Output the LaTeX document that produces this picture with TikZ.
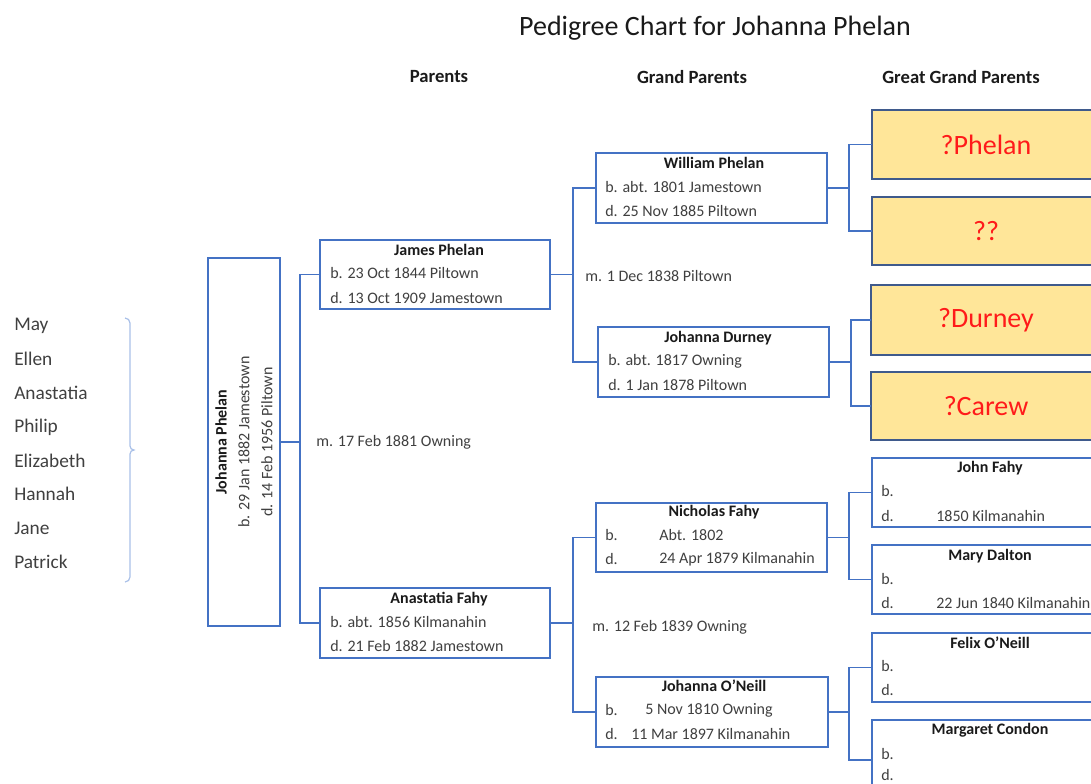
\documentclass[tikz,border=0pt]{standalone}
\usepackage{fontspec}
\setmainfont{Carlito}
\definecolor{boxblue}{HTML}{4472C4}
\definecolor{ggpborder}{HTML}{3F5A8C}
\definecolor{ggpfill}{HTML}{FFE699}
\definecolor{txtgrey}{HTML}{404040}
\definecolor{namecol}{HTML}{1A1A1A}
\definecolor{bracecol}{HTML}{A9C0E8}
\definecolor{redtxt}{HTML}{FF1A1A}
\tikzset{
  x=0.75pt, y=-0.75pt,
  pbox/.style={draw=boxblue, line width=1.2pt, fill=white, inner sep=0pt, outer sep=0pt},
  gbox/.style={draw=ggpborder, line width=1.2pt, fill=ggpfill, inner sep=0pt, outer sep=0pt},
  conn/.style={draw=boxblue, line width=1.2pt},
  lbl/.style={inner sep=0pt, anchor=west, font=\fontsize{12}{14}\selectfont, text=txtgrey},
  nm/.style={inner sep=0pt, font=\fontsize{12}{14}\selectfont\bfseries, text=namecol},
  hdr/.style={inner sep=0pt, font=\fontsize{14}{16}\selectfont\bfseries, text=namecol},
  kid/.style={inner sep=0pt, anchor=west, font=\fontsize{14.5}{16}\selectfont, text=txtgrey},
  red/.style={inner sep=0pt, font=\fontsize{21}{24}\selectfont, text=redtxt},
}
\newcommand\mkbox[6]{\node[#2, minimum width={(#5-#3)*0.75pt}, minimum height={(#6-#4)*0.75pt}] (#1) at ({(#3+#5)/2},{(#4+#6)/2}) {};}
\begin{document}
\begin{tikzpicture}
\useasboundingbox (0,0) rectangle (1091,784);
\clip (0,0) rectangle (1091,784);
% title and headers
\node[inner sep=0pt, font=\fontsize{21}{24}\selectfont, text=namecol] (title) at (715,28) {Pedigree Chart for Johanna Phelan};
\node[hdr] (h1) at (439,77) {Parents};
\node[hdr] (h2) at (692,77) {Grand Parents};
\node[hdr] (h3) at (961,77) {Great Grand Parents};
% children list
\node[kid] (k1) at (14,326) {May};
\node[kid] (k2) at (14,359) {Ellen};
\node[kid] (k3) at (14,393) {Anastatia};
\node[kid] (k4) at (14,427) {Philip};
\node[kid] (k5) at (14,461) {Elizabeth};
\node[kid] (k6) at (14,494) {Hannah};
\node[kid] (k7) at (14,528) {Jane};
\node[kid] (k8) at (14,562) {Patrick};
\draw[bracecol, line width=0.9pt] (125,318) to[out=0,in=90] (130,323) -- (130,446) to[out=-90,in=180] (134,450) to[out=180,in=90] (130,454) -- (130,577) to[out=-90,in=0] (125,582);
% boxes
\mkbox{main}{pbox}{208}{258}{280}{626}
\mkbox{jp}{pbox}{320}{240}{550}{309}
\mkbox{af}{pbox}{320}{588}{550}{658}
\mkbox{wp}{pbox}{596}{153}{827}{223}
\mkbox{jd}{pbox}{598}{327}{829}{397}
\mkbox{nf}{pbox}{596}{503}{827}{572}
\mkbox{jo}{pbox}{596}{677}{828}{747}
\mkbox{g1}{gbox}{872}{110}{1101}{179}
\mkbox{g2}{gbox}{872}{197}{1101}{265}
\mkbox{g3}{gbox}{871}{285}{1101}{355}
\mkbox{g4}{gbox}{871}{372}{1101}{440}
\mkbox{jf}{pbox}{872}{458}{1101}{527}
\mkbox{md}{pbox}{872}{545}{1101}{614}
\mkbox{fo}{pbox}{872}{633}{1101}{702}
\mkbox{mc}{pbox}{872}{720}{1101}{800}
% junction coordinates
\coordinate (j0) at (300,442);
\coordinate (j1) at (573,274.5);
\coordinate (j2) at (573,623);
\coordinate (j3) at (849,188);
\coordinate (j4) at (851,362);
\coordinate (j5) at (849,537.5);
\coordinate (j6) at (849,712);
% connectors
\draw[conn] (main.east) -- (j0);
\draw[conn] (jp.west) -| (j0) |- (af.west);
\draw[conn] (jp.east) -- (j1);
\draw[conn] (wp.west) -| (j1) |- (jd.west);
\draw[conn] (af.east) -- (j2);
\draw[conn] (nf.west) -| (j2) |- (jo.west);
\draw[conn] (wp.east) -- (j3);
\draw[conn] (g1.west) -| (j3) |- (g2.west);
\draw[conn] (jd.east) -- (j4);
\draw[conn] (g3.west) -| (j4) |- (g4.west);
\draw[conn] (nf.east) -- (j5);
\draw[conn] (jf.west) -| (j5) |- (md.west);
\draw[conn] (jo.east) -- (j6);
\draw[conn] (fo.west) -| (j6) |- (mc.west);
% main person text
\node[nm, rotate=90] (mt1) at (221,442) {Johanna Phelan};
\node[inner sep=0pt, rotate=90, font=\fontsize{12}{14}\selectfont, text=txtgrey] (mt2) at (244,442) {b. 29 Jan 1882 Jamestown};
\node[inner sep=0pt, rotate=90, font=\fontsize{12}{14}\selectfont, text=txtgrey] (mt3) at (267,442) {d. 14 Feb 1956 Piltown};
% marriage labels
\node[lbl] (m0) at (316,442) {m. 17 Feb 1881 Owning};
\node[lbl] (m1) at (585,276) {m. 1 Dec 1838 Piltown};
\node[lbl] (m2) at (592,627) {m. 12 Feb 1839 Owning};
% parents
\node[nm] (jpn) at (439,250) {James Phelan};
\node[lbl] (jpb) at (330,273) {b. 23 Oct 1844 Piltown};
\node[lbl] (jpd) at (330,298) {d. 13 Oct 1909 Jamestown};
\node[nm] (afn) at (439,599) {Anastatia Fahy};
\node[lbl] (afb) at (330,622) {b. abt. 1856 Kilmanahin};
\node[lbl] (afd) at (330,646) {d. 21 Feb 1882 Jamestown};
% grandparents
\node[nm] (wpn) at (714,163) {William Phelan};
\node[lbl] (wpb) at (605,187) {b. abt. 1801 Jamestown};
\node[lbl] (wpd) at (605,211) {d. 25 Nov 1885 Piltown};
\node[nm] (jdn) at (718,338) {Johanna Durney};
\node[lbl] (jdb) at (608,361) {b. abt. 1817 Owning};
\node[lbl] (jdd) at (608,385) {d. 1 Jan 1878 Piltown};
\node[nm] (nfn) at (714,512) {Nicholas Fahy};
\node[lbl] (nfb) at (605,535) {b.};
\node[lbl] (nfb2) at (659,535) {Abt. 1802};
\node[lbl] (nfd) at (605,559) {d.};
\node[lbl] (nfd2) at (659,559) {24 Apr 1879 Kilmanahin};
\node[nm] (jon) at (714,686) {Johanna O’Neill};
\node[lbl] (job) at (605,710) {b.};
\node[lbl] (job2) at (645,710) {5 Nov 1810 Owning};
\node[lbl] (jod) at (605,734) {d.};
\node[lbl] (jod2) at (631,734) {11 Mar 1897 Kilmanahin};
% great grandparents
\node[red] (g1t) at (986,145) {?Phelan};
\node[red] (g2t) at (986,231) {??};
\node[red] (g3t) at (986,320) {?Durney};
\node[red] (g4t) at (986,406) {?Carew};
\node[nm] (jfn) at (990,468) {John Fahy};
\node[lbl] (jfb) at (881,491) {b.};
\node[lbl] (jfd) at (881,516) {d.};
\node[lbl] (jfd2) at (936,516) {1850 Kilmanahin};
\node[nm] (mdn) at (990,556) {Mary Dalton};
\node[lbl] (mdb) at (881,579) {b.};
\node[lbl] (mdd) at (881,603) {d.};
\node[lbl] (mdd2) at (936,603) {22 Jun 1840 Kilmanahin};
\node[nm] (fon) at (990,643) {Felix O’Neill};
\node[lbl] (fob) at (881,666) {b.};
\node[lbl] (fod) at (881,690) {d.};
\node[nm] (mcn) at (990,730) {Margaret Condon};
\node[lbl] (mcb) at (881,754) {b.};
\node[lbl] (mcd) at (881,775) {d.};
\end{tikzpicture}
\end{document}
